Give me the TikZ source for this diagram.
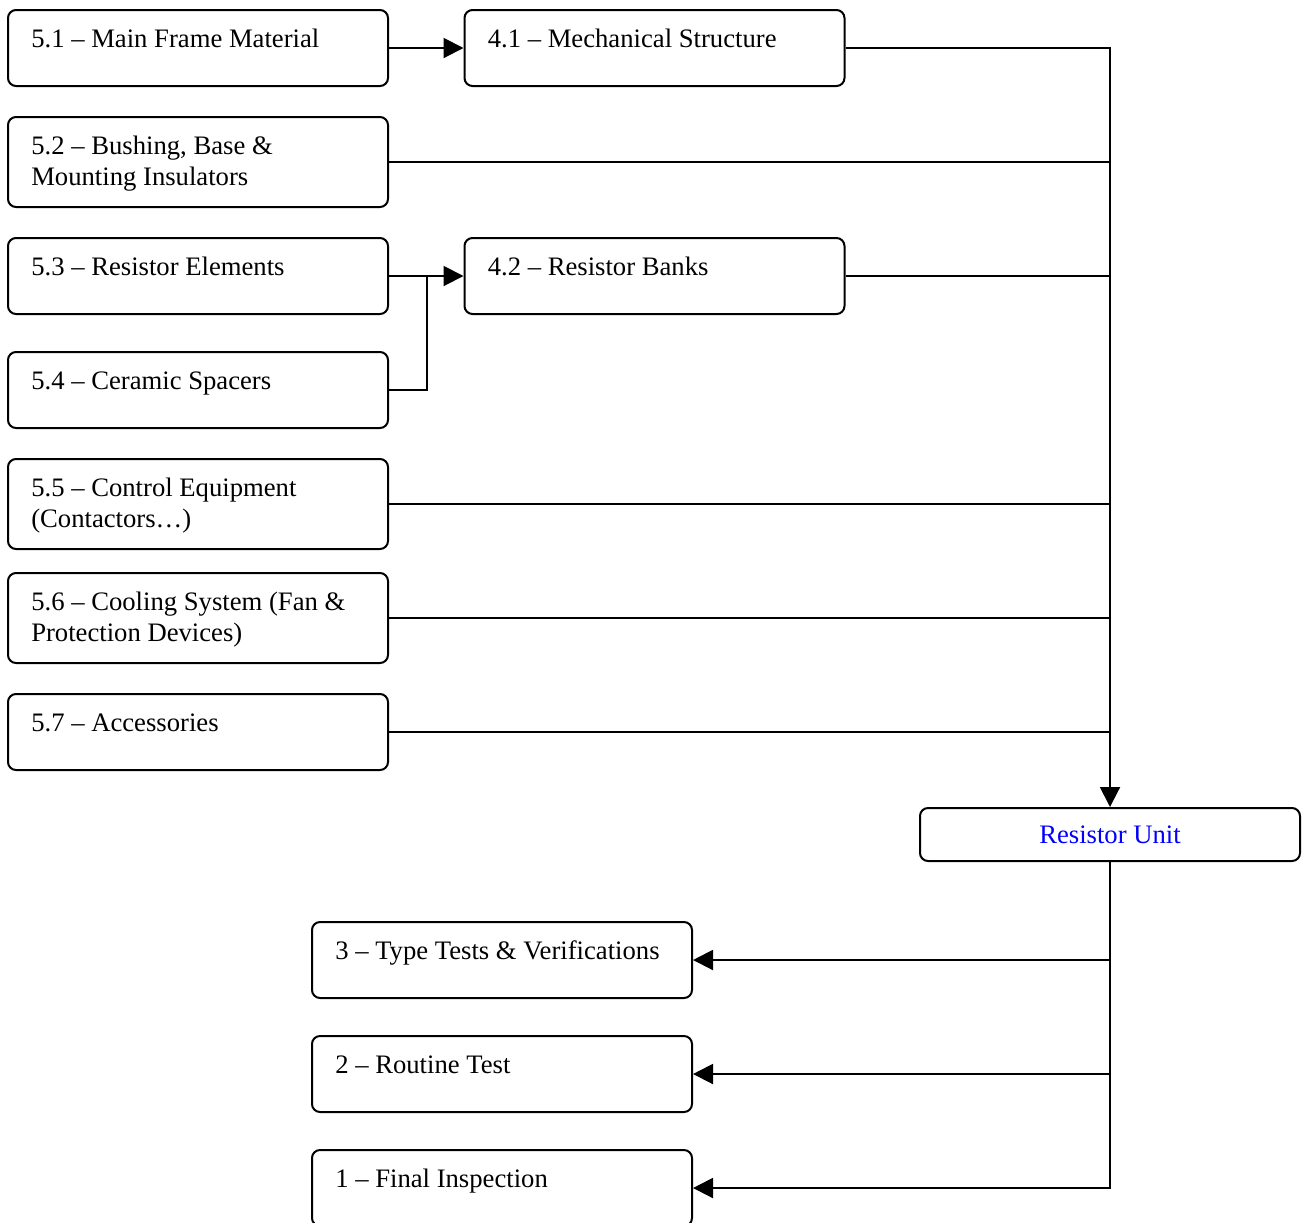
\documentclass[tikz,border=0pt]{standalone}
\usepackage{fontspec}
\setmainfont{Liberation Serif}
\usetikzlibrary{arrows.meta,calc}
\begin{document}
\begin{tikzpicture}[x=0.75pt,y=-0.75pt,
  box/.style={draw,line width=1.5pt,rounded corners=6pt,minimum width=285pt,minimum height=57pt,inner sep=0pt},
  tallbox/.style={box,minimum height=67.5pt},
  lbl/.style={anchor=base west,inner sep=0pt,align=left,font=\fontsize{20}{23.25}\selectfont},
  conn/.style={line width=1.5pt},
  arr/.style={conn,-{Triangle[length=15pt,width=15pt]}}]
\useasboundingbox (0,0) rectangle (1302,1222);
\clip (0,0) rectangle (1302,1222);
% boxes
\node[box] (b51) at (198,48) {};
\node[box] (b41) at (654.5,48) {};
\node[tallbox] (b52) at (198,162) {};
\node[box] (b53) at (198,276) {};
\node[box] (b42) at (654.5,276) {};
\node[box] (b54) at (198,390) {};
\node[tallbox] (b55) at (198,504) {};
\node[tallbox] (b56) at (198,618) {};
\node[box] (b57) at (198,732) {};
\node[box,minimum height=39.75pt,text=blue,font=\fontsize{20}{23.25}\selectfont] (ru) at (1110,834.5) {Resistor Unit};
\node[box] (b3) at (502,960) {};
\node[box] (b2) at (502,1074) {};
\node[box] (b1) at (502,1188) {};
% labels (base anchor = last line's baseline)
\node[lbl] (t51) at ($(b51.north west)+(24,38)$) {5.1 -- Main Frame Material};
\node[lbl] (t41) at ($(b41.north west)+(24,38)$) {4.1 -- Mechanical Structure};
\node[lbl] (t52) at ($(b52.north west)+(24,69)$) {5.2 -- Bushing, Base \&\\Mounting Insulators};
\node[lbl] (t53) at ($(b53.north west)+(24,38)$) {5.3 -- Resistor Elements};
\node[lbl] (t42) at ($(b42.north west)+(24,38)$) {4.2 -- Resistor Banks};
\node[lbl] (t54) at ($(b54.north west)+(24,38)$) {5.4 -- Ceramic Spacers};
\node[lbl] (t55) at ($(b55.north west)+(24,69)$) {5.5 -- Control Equipment\\(Contactors…)};
\node[lbl] (t56) at ($(b56.north west)+(24,69)$) {5.6 -- Cooling System (Fan \&\\Protection Devices)};
\node[lbl] (t57) at ($(b57.north west)+(24,38)$) {5.7 -- Accessories};
\node[lbl] (t3) at ($(b3.north west)+(24,38)$) {3 -- Type Tests \& Verifications};
\node[lbl] (t2) at ($(b2.north west)+(24,38)$) {2 -- Routine Test};
\node[lbl] (t1) at ($(b1.north west)+(24,38)$) {1 -- Final Inspection};
% connectors
\coordinate (j54) at (427,276);
\draw[arr] (b51.east) -- (b41.west);
\draw[arr] (b41.east) -| (ru.north);
\draw[conn] (b52.east) -- (b52.east -| ru.north);
\draw[arr] (b53.east) -- (b42.west);
\draw[conn] (b54.east) -| (j54);
\draw[conn] (b42.east) -- (b42.east -| ru.north);
\draw[conn] (b55.east) -- (b55.east -| ru.north);
\draw[conn] (b56.east) -- (b56.east -| ru.north);
\draw[conn] (b57.east) -- (b57.east -| ru.north);
\draw[arr] (ru.south) |- (b1.east);
\draw[arr] (b3.east -| ru.south) -- (b3.east);
\draw[arr] (b2.east -| ru.south) -- (b2.east);
\end{tikzpicture}
\end{document}
